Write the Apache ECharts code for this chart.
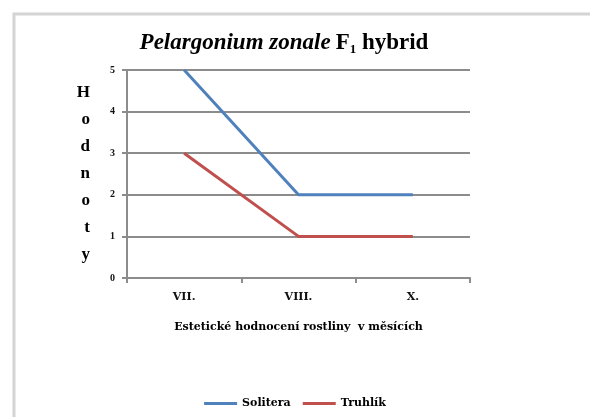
<!DOCTYPE html>
<html>
<head>
<meta charset="utf-8">
<script src="https://cdn.jsdelivr.net/npm/echarts@6/dist/echarts.min.js"></script>
<style>
html,body{margin:0;padding:0;background:#fff;}
#chart{width:590px;height:417px;}
</style>
</head>
<body>
<div id="chart"></div>
<script>
// Months of evaluation and scores per planting type
const months = ['VII.', 'VIII.', 'X.'];
const solitera = [5, 2, 2];
const truhlik = [3, 1, 1];
const yTicks = [0, 1, 2, 3, 4, 5];

const serif = '"Liberation Serif", "DejaVu Serif", serif';
const wideSerif = '"DejaVu Serif", "Liberation Serif", serif';
const chart = echarts.init(document.getElementById('chart'));

chart.setOption({
  animation: false,
  backgroundColor: '#fff',
  graphic: [{
    type: 'rect',
    shape: { x: 14, y: 14, width: 600, height: 430 },
    style: { fill: 'none', stroke: '#d4d4d4', lineWidth: 3 }
  }],
  title: {
    text: '{i|Pelargonium zonale} {b|F}{s|1}{b| hybrid}',
    left: 279,
    top: 26,
    textAlign: 'center',
    textStyle: {
      rich: {
        i: { fontFamily: serif, fontStyle: 'italic', fontWeight: 'bold', fontSize: 23, color: '#000' },
        b: { fontFamily: serif, fontWeight: 'bold', fontSize: 23, color: '#000' },
        s: { fontFamily: serif, fontWeight: 'bold', fontSize: 13, color: '#000', padding: [12, 0, 0, 0] }
      }
    }
  },
  legend: {
    bottom: 3,
    left: 'center',
    itemWidth: 33,
    itemHeight: 3,
    itemGap: 12,
    icon: 'rect',
    textStyle: { fontFamily: wideSerif, fontWeight: 'bold', fontSize: 11, color: '#000' },
    data: ['Solitera', 'Truhlík']
  },
  grid: { left: 127, right: 120, top: 70, bottom: 139 },
  xAxis: {
    type: 'category',
    data: months,
    boundaryGap: true,
    name: 'Estetické hodnocení rostliny  v měsících',
    nameLocation: 'middle',
    nameGap: 44,
    nameTextStyle: { fontFamily: wideSerif, fontWeight: 'bold', fontSize: 11, color: '#000' },
    axisLine: { lineStyle: { color: '#8c8c8c', width: 2 } },
    axisTick: { show: true, length: 5, lineStyle: { color: '#8c8c8c', width: 2 } },
    axisLabel: { fontFamily: wideSerif, fontWeight: 'bold', fontSize: 11, color: '#111', margin: 14 }
  },
  yAxis: {
    type: 'value',
    min: yTicks[0],
    max: yTicks[yTicks.length - 1],
    interval: 1,
    name: 'H\no\nd\nn\no\nt\ny',
    nameLocation: 'middle',
    nameRotate: 0,
    nameGap: 37,
    nameTextStyle: { fontFamily: serif, fontWeight: 'bold', fontSize: 17, lineHeight: 27, color: '#000' },
    axisLine: { show: true, lineStyle: { color: '#8c8c8c', width: 2 } },
    axisTick: { show: true, length: 5, lineStyle: { color: '#8c8c8c', width: 2 } },
    axisLabel: { fontFamily: serif, fontWeight: 'bold', fontSize: 10, color: '#111', margin: 12 },
    splitLine: { lineStyle: { color: '#8c8c8c', width: 2 } }
  },
  series: [
    {
      name: 'Solitera', type: 'line', data: solitera,
      symbol: 'none', lineStyle: { color: '#4F81BD', width: 3 }, itemStyle: { color: '#4F81BD' }
    },
    {
      name: 'Truhlík', type: 'line', data: truhlik,
      symbol: 'none', lineStyle: { color: '#C0504D', width: 3 }, itemStyle: { color: '#C0504D' }
    }
  ]
});
</script>
</body>
</html>
